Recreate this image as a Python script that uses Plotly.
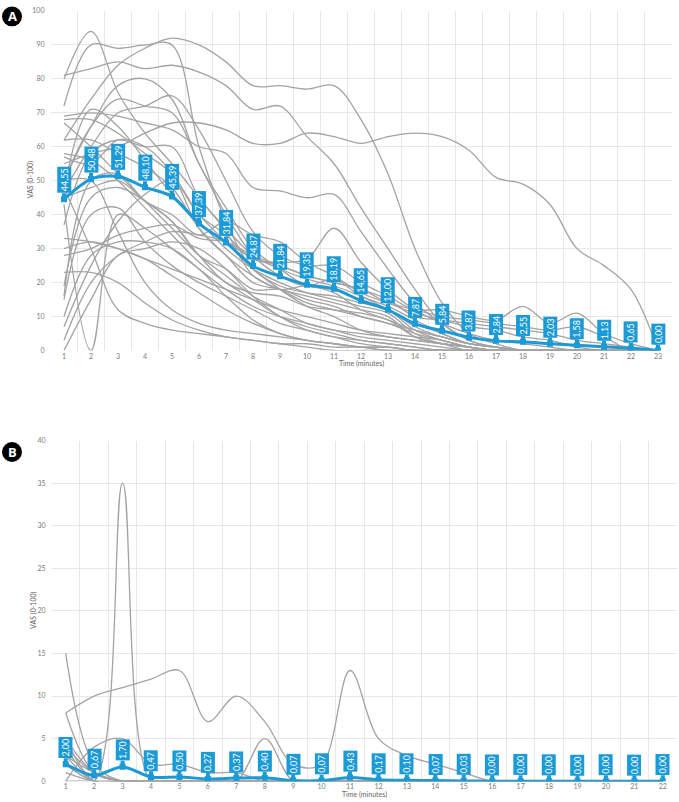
import plotly.graph_objects as go

W, H = 679, 802
BLUE = "#1b9ad6"
GRAY = "#a3a3a3"
GRID = "#e8e8e8"
TICK = "#7a7a7a"
FONT = "Lato"

# ---------------- Panel A data ----------------
time_a = ["1", "2", "3", "4", "5", "6", "7", "8", "9", "10", "11", "12",
          "13", "14", "15", "16", "17", "18", "19", "20", "21", "22", "23"]
mean_a = [44.55, 50.48, 51.29, 48.10, 45.39, 37.39, 31.84, 24.87, 21.84, 19.35, 18.19, 14.65,
          12.00, 7.87, 5.84, 3.87, 2.84, 2.55, 2.03, 1.58, 1.13, 0.65, 0.00]
patients_a = [
    [62, 74, 84, 89, 92, 90, 85, 78, 78, 77, 78, 68, 52, 30, 14, 5, 2, 0, 0, 0, 0, 0, 0],
    [55, 58, 60, 64, 67, 67, 65, 61, 61, 64, 63, 61, 63, 64, 63, 59, 51, 49, 43, 30, 25, 18, 0],
    [81, 83, 85, 83, 84, 82, 78, 71, 72, 63, 55, 42, 30, 18, 8, 3, 1, 0, 0, 0, 0, 0, 0],
    [72, 90, 89, 90, 90, 60, 38, 24, 19, 17, 16, 14, 12, 7, 4, 2, 1, 0, 0, 0, 0, 0, 0],
    [80, 94, 76, 64, 55, 45, 35, 22, 18, 14, 12, 10, 8, 5, 3, 1, 0, 0, 0, 0, 0, 0, 0],
    [69, 70, 69, 67, 65, 60, 58, 48, 47, 45, 46, 35, 24, 14, 8, 3, 1, 0, 0, 0, 0, 0, 0],
    [68, 68, 64, 58, 52, 40, 32, 24, 18, 13, 10, 6, 4, 3, 2, 1, 0, 0, 0, 0, 0, 0, 0],
    [67, 60, 52, 44, 36, 28, 22, 16, 12, 8, 6, 4, 3, 2, 1, 0, 0, 0, 0, 0, 0, 0, 0],
    [62, 62, 58, 54, 48, 36, 28, 20, 18, 16, 14, 12, 10, 4, 2, 1, 0, 0, 0, 0, 0, 0, 0],
    [58, 56, 50, 42, 34, 26, 20, 15, 10, 7, 5, 3, 2, 1, 0, 0, 0, 0, 0, 0, 0, 0, 0],
    [50, 66, 78, 80, 74, 55, 42, 30, 24, 19, 18, 15, 12, 6, 3, 1, 0, 0, 0, 0, 0, 0, 0],
    [47, 60, 70, 72, 75, 65, 50, 35, 28, 25, 25, 20, 16, 12, 12, 10, 9, 13, 8, 11, 5, 2, 0],
    [50, 66, 74, 72, 70, 55, 40, 28, 22, 19, 21, 16, 13, 9, 5, 2, 1, 0, 0, 0, 0, 0, 0],
    [47, 71, 66, 56, 46, 38, 30, 24, 20, 17, 15, 13, 11, 5, 2, 1, 0, 0, 0, 0, 0, 0, 0],
    [43, 0, 40, 36, 30, 24, 18, 13, 10, 8, 6, 5, 4, 3, 2, 1, 0, 0, 0, 0, 0, 0, 0],
    [37, 58, 62, 60, 60, 45, 36, 28, 24, 21, 19, 16, 12, 8, 5, 2, 1, 0, 0, 0, 0, 0, 0],
    [33, 32, 30, 27, 24, 21, 18, 15, 12, 10, 8, 6, 5, 4, 3, 1, 0, 0, 0, 0, 0, 0, 0],
    [30, 32, 30, 27, 22, 17, 12, 8, 5, 3, 2, 1, 0, 0, 0, 0, 0, 0, 0, 0, 0, 0, 0],
    [28, 30, 34, 36, 37, 33, 32, 28, 25, 22, 20, 18, 14, 11, 9, 7, 6, 4, 3, 1, 0, 0, 0],
    [23, 23, 20, 14, 9, 6, 4, 3, 2, 1, 0, 0, 0, 0, 0, 0, 0, 0, 0, 0, 0, 0, 0],
    [19, 45, 48, 44, 38, 28, 20, 17, 16, 13, 12, 11, 9, 4, 2, 0, 0, 0, 0, 0, 0, 0, 0],
    [16, 50, 52, 44, 40, 34, 38, 34, 32, 26, 22, 17, 14, 12, 10, 9, 8, 7, 6, 7, 4, 0, 0],
    [15, 40, 42, 32, 25, 20, 16, 12, 8, 6, 4, 3, 2, 1, 0, 0, 0, 0, 0, 0, 0, 0, 0],
    [7, 25, 38, 46, 50, 40, 34, 27, 26, 27, 36, 26, 18, 12, 8, 5, 3, 2, 1, 0, 0, 0, 0],
    [3, 20, 28, 32, 35, 34, 32, 27, 25, 22, 20, 18, 15, 10, 9, 8, 7, 6, 5, 3, 2, 1, 0],
    [10, 28, 32, 32, 30, 24, 16, 9, 5, 3, 2, 1, 1, 0, 0, 0, 0, 0, 0, 0, 0, 0, 0],
    [50, 50, 35, 20, 12, 8, 6, 5, 4, 3, 2, 1, 1, 0, 0, 0, 0, 0, 0, 0, 0, 0, 0],
    [48, 30, 12, 8, 6, 5, 4, 3, 2, 2, 1, 1, 0, 0, 0, 0, 0, 0, 0, 0, 0, 0, 0],
    [57, 55, 62, 60, 52, 36, 28, 22, 18, 19, 17, 12, 9, 6, 4, 2, 1, 0, 0, 0, 0, 0, 0],
    [45, 48, 50, 44, 38, 28, 24, 18, 18, 15, 13, 10, 8, 6, 4, 2, 1, 0, 0, 0, 0, 0, 0],
    [0, 15, 28, 30, 32, 30, 24, 16, 10, 6, 4, 2, 1, 0, 0, 0, 0, 0, 0, 0, 0, 0, 0],
]
yticks_a = [0, 10, 20, 30, 40, 50, 60, 70, 80, 90, 100]

# ---------------- Panel B data ----------------
time_b = ["1", "2", "3", "4", "5", "6", "7", "8", "9", "10", "11",
          "12", "13", "14", "15", "16", "17", "18", "19", "20", "21", "22"]
mean_b = [2.00, 0.67, 1.70, 0.47, 0.50, 0.27, 0.37, 0.40, 0.07, 0.07, 0.43,
          0.17, 0.10, 0.07, 0.03, 0.00, 0.00, 0.00, 0.00, 0.00, 0.00, 0.00]
patients_b = [
    [8, 10, 11, 12, 13, 7, 10, 7, 2, 2, 13, 5, 3, 2, 1, 0, 0, 0, 0, 0, 0, 0],
    [0, 4, 5, 2, 2, 1, 1, 0, 0, 0, 0, 0, 0, 0, 0, 0, 0, 0, 0, 0, 0, 0],
    [0, 0, 0, 0, 0, 0, 0, 5, 0, 0, 0, 0, 0, 0, 0, 0, 0, 0, 0, 0, 0, 0],
    [0, 0, 35, 0, 0, 0, 0, 0, 0, 0, 0, 0, 0, 0, 0, 0, 0, 0, 0, 0, 0, 0],
    [15, 2, 0, 0, 0, 0, 0, 0, 0, 0, 0, 0, 0, 0, 0, 0, 0, 0, 0, 0, 0, 0],
    [8, 1, 0, 0, 0, 0, 0, 0, 0, 0, 0, 0, 0, 0, 0, 0, 0, 0, 0, 0, 0, 0],
    [5, 1, 0, 0, 0, 0, 0, 0, 0, 0, 0, 0, 0, 0, 0, 0, 0, 0, 0, 0, 0, 0],
    [5, 0, 0, 0, 0, 0, 0, 0, 0, 0, 0, 0, 0, 0, 0, 0, 0, 0, 0, 0, 0, 0],
    [4, 1, 0, 0, 0, 0, 0, 0, 0, 0, 0, 0, 0, 0, 0, 0, 0, 0, 0, 0, 0, 0],
    [4, 0, 0, 0, 0, 0, 0, 0, 0, 0, 0, 0, 0, 0, 0, 0, 0, 0, 0, 0, 0, 0],
    [3, 1, 0, 0, 0, 0, 0, 0, 0, 0, 0, 0, 0, 0, 0, 0, 0, 0, 0, 0, 0, 0],
    [3, 0, 0, 0, 0, 0, 0, 0, 0, 0, 0, 0, 0, 0, 0, 0, 0, 0, 0, 0, 0, 0],
    [2, 0, 0, 0, 0, 0, 0, 0, 0, 0, 0, 0, 0, 0, 0, 0, 0, 0, 0, 0, 0, 0],
    [2, 0, 0, 0, 0, 0, 0, 0, 0, 0, 0, 0, 0, 0, 0, 0, 0, 0, 0, 0, 0, 0],
    [1, 0, 0, 0, 0, 0, 0, 0, 0, 0, 0, 0, 0, 0, 0, 0, 0, 0, 0, 0, 0, 0],
]
yticks_b = [0, 5, 10, 15, 20, 25, 30, 35, 40]

y_title = "VAS (0-100)"
x_title = "Time (minutes)"
panel_labels = ["A", "B"]


def fx(px):
    return px / W


def fy(py):
    return 1 - py / H


fig = go.Figure()

# gray individual lines
for p in patients_a:
    fig.add_trace(go.Scatter(x=time_a, y=p, mode="lines", xaxis="x", yaxis="y",
                             line=dict(color=GRAY, width=1.3, shape="spline", smoothing=1),
                             hoverinfo="skip", showlegend=False))
for p in patients_b:
    fig.add_trace(go.Scatter(x=time_b, y=p, mode="lines", xaxis="x2", yaxis="y2",
                             line=dict(color=GRAY, width=1.3, shape="spline", smoothing=1),
                             hoverinfo="skip", showlegend=False))

# mean lines
fig.add_trace(go.Scatter(x=time_a, y=mean_a, mode="lines+markers", xaxis="x", yaxis="y",
                         line=dict(color=BLUE, width=3, shape="spline", smoothing=0.8),
                         marker=dict(symbol="square", size=6, color=BLUE),
                         showlegend=False))
fig.add_trace(go.Scatter(x=time_b, y=mean_b, mode="lines+markers", xaxis="x2", yaxis="y2",
                         line=dict(color=BLUE, width=3, shape="spline", smoothing=0.8),
                         marker=dict(symbol="square", size=6, color=BLUE),
                         showlegend=False))

annotations = []


def fmt(v):
    return f"{v:.2f}".replace(".", ",")


for xa, ya, t, m in (("x", "y", time_a, mean_a), ("x2", "y2", time_b, mean_b)):
    for i, yv in enumerate(m):
        s = fmt(yv)
        annotations.append(dict(
            x=i, y=yv, xref=xa, yref=ya, text=s, showarrow=True,
            ax=0, ay=-(len(s) * 2.6 + 6), arrowhead=0, arrowwidth=4,
            arrowcolor=BLUE, standoff=0, textangle=-90,
            bgcolor=BLUE, borderpad=1,
            font=dict(family=FONT, size=9, color="white")))

# axis titles
title_font = dict(family=FONT, size=7, color="#666666")
annotations.append(dict(x=fx(30), y=fy(177), xref="paper", yref="paper", text=y_title,
                        showarrow=False, textangle=-90, xanchor="center", yanchor="middle",
                        font=title_font))
annotations.append(dict(x=fx(361), y=fy(362), xref="paper", yref="paper", text=x_title,
                        showarrow=False, xanchor="center", yanchor="middle", font=title_font))
annotations.append(dict(x=fx(34), y=fy(612), xref="paper", yref="paper", text=y_title,
                        showarrow=False, textangle=-90, xanchor="center", yanchor="middle",
                        font=title_font))
annotations.append(dict(x=fx(364), y=fy(797), xref="paper", yref="paper", text=x_title,
                        showarrow=False, xanchor="center", yanchor="middle", font=title_font))

# panel labels
shapes = []
for lab, cy in zip(panel_labels, (11.5, 451.5)):
    shapes.append(dict(type="circle", xref="paper", yref="paper", layer="below",
                       x0=fx(2), x1=fx(22), y0=fy(cy + 10), y1=fy(cy - 10),
                       fillcolor="black", line=dict(color="black", width=0)))
    annotations.append(dict(x=fx(12), y=fy(cy), xref="paper", yref="paper", text=f"<b>{lab}</b>",
                            showarrow=False, xanchor="center", yanchor="middle",
                            font=dict(family="Open Sans", size=13, color="white")))

axis_common = dict(showgrid=True, gridcolor=GRID, gridwidth=1, zeroline=False,
                   showline=False, ticks="", tickfont=dict(family=FONT, size=7, color=TICK))

fig.update_layout(
    width=W, height=H, margin=dict(l=0, r=0, t=0, b=0),
    paper_bgcolor="white", plot_bgcolor="white",
    xaxis=dict(domain=[fx(50.5), fx(671.5)], anchor="y", type="category",
               tickson="boundaries", range=[-0.5, 22.5], **axis_common),
    yaxis=dict(domain=[fy(349), fy(6)], anchor="x", range=[0, 100], tickvals=yticks_a,
               ticklabelstandoff=5, **axis_common),
    xaxis2=dict(domain=[fx(51.5), fx(677)], anchor="y2", type="category",
                tickson="boundaries", range=[-0.5, 21.5], **axis_common),
    yaxis2=dict(domain=[fy(784), fy(440)], anchor="x2", range=[0, 40], tickvals=yticks_b,
                ticklabelstandoff=5, **axis_common),
    annotations=annotations, shapes=shapes,
)

fig.write_html("out.html")
